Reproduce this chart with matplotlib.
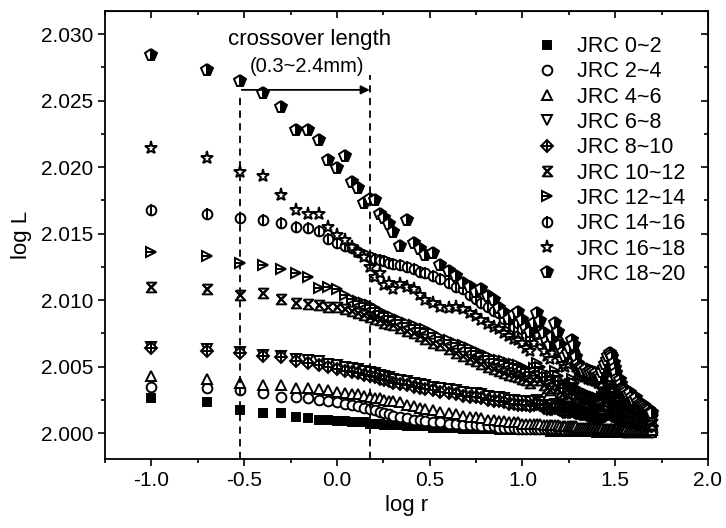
import numpy as np
import matplotlib
matplotlib.use('Agg')
import matplotlib.pyplot as plt
from matplotlib.ticker import MultipleLocator, FormatStrFormatter
from matplotlib.legend_handler import HandlerTuple

plt.rcParams['font.family'] = ['Liberation Sans', 'DejaVu Sans']

# measuring scale r (mm)
r_mm = [0.1, 0.2, 0.3, 0.4, 0.5, 0.6, 0.7, 0.8, 0.9, 1.0,
        1.1, 1.2, 1.3, 1.4, 1.5, 1.6, 1.7, 1.8, 1.9, 2.0,
        2.2, 2.4, 2.6, 2.8, 3.0, 3.3, 3.6, 4.0, 4.4, 4.8,
        5.2, 5.6, 6.0, 6.5, 7.0, 7.5, 8.0, 8.5, 9.0, 9.5,
        10, 10.5, 11, 11.5, 12, 12.5, 13, 13.5, 14, 14.5,
        15, 15.5, 16, 16.5, 17, 17.5, 18, 18.5, 19, 19.5,
        20, 20.5, 21, 21.5, 22, 22.5, 23, 23.5, 24, 24.5,
        25, 25.5, 26, 26.5, 27, 27.5, 28, 28.5, 29, 29.5,
        30, 30.5, 31, 31.5, 32, 32.5, 33, 33.5, 34, 34.5,
        35, 35.5, 36, 37, 38, 39, 40, 41, 42, 43,
        44, 45, 46, 47, 48, 49, 50]

labels = ['JRC 0~2', 'JRC 2~4', 'JRC 4~6', 'JRC 6~8', 'JRC 8~10',
          'JRC 10~12', 'JRC 12~14', 'JRC 14~16', 'JRC 16~18', 'JRC 18~20']

jrc_0_2 = [2.0026, 2.0023, 2.0017, 2.0015, 2.0015, 2.0012, 2.0011, 2.0010, 2.0010, 2.0009,
           2.0009, 2.0008, 2.0008, 2.0008, 2.0007, 2.0007, 2.0007, 2.0006, 2.0006, 2.0006,
           2.0006, 2.0005, 2.0005, 2.0005, 2.0005, 2.0004, 2.0004, 2.0004, 2.0004, 2.0003,
           2.0003, 2.0003, 2.0003, 2.0003, 2.0003, 2.0002, 2.0002, 2.0002, 2.0002, 2.0002,
           2.0002, 2.0002, 2.0002, 2.0002, 2.0002, 2.0002, 2.0002, 2.0002, 2.0001, 2.0001,
           2.0001, 2.0001, 2.0001, 2.0001, 2.0001, 2.0001, 2.0001, 2.0001, 2.0001, 2.0001,
           2.0001, 2.0001, 2.0001, 2.0001, 2.0001, 2.0001, 2.0001, 2.0001, 2.0001, 2.0001,
           2.0000, 2.0000, 2.0000, 2.0000, 2.0000, 2.0000, 2.0000, 2.0000, 2.0000, 2.0000,
           2.0000, 2.0000, 2.0000, 2.0000, 2.0000, 2.0000, 2.0000, 2.0000, 2.0000, 2.0000,
           2.0000, 2.0000, 2.0000, 2.0000, 2.0000, 2.0000, 2.0000, 2.0000, 2.0000, 2.0000,
           2.0000, 2.0000, 2.0000, 2.0000, 2.0000, 2.0000, 2.0000]
jrc_2_4 = [2.0035, 2.0034, 2.0032, 2.0030, 2.0027, 2.0027, 2.0026, 2.0025, 2.0024, 2.0023,
           2.0022, 2.0021, 2.0020, 2.0019, 2.0018, 2.0017, 2.0016, 2.0015, 2.0014, 2.0013,
           2.0012, 2.0011, 2.0010, 2.0010, 2.0009, 2.0008, 2.0008, 2.0007, 2.0007, 2.0006,
           2.0006, 2.0006, 2.0005, 2.0005, 2.0005, 2.0004, 2.0004, 2.0004, 2.0004, 2.0003,
           2.0003, 2.0003, 2.0003, 2.0003, 2.0003, 2.0003, 2.0003, 2.0003, 2.0003, 2.0003,
           2.0003, 2.0003, 2.0003, 2.0003, 2.0002, 2.0002, 2.0002, 2.0002, 2.0002, 2.0002,
           2.0002, 2.0002, 2.0002, 2.0002, 2.0002, 2.0002, 2.0002, 2.0002, 2.0002, 2.0002,
           2.0002, 2.0002, 2.0002, 2.0002, 2.0002, 2.0002, 2.0002, 2.0002, 2.0002, 2.0002,
           2.0002, 2.0002, 2.0002, 2.0002, 2.0002, 2.0002, 2.0002, 2.0002, 2.0002, 2.0002,
           2.0001, 2.0001, 2.0001, 2.0001, 2.0001, 2.0001, 2.0001, 2.0001, 2.0001, 2.0001,
           2.0001, 2.0001, 2.0001, 2.0001, 2.0001, 2.0001, 2.0001]
jrc_4_6 = [2.0043, 2.0041, 2.0038, 2.0036, 2.0036, 2.0034, 2.0034, 2.0033, 2.0032, 2.0031,
           2.0030, 2.0029, 2.0029, 2.0028, 2.0027, 2.0026, 2.0026, 2.0025, 2.0024, 2.0024,
           2.0023, 2.0021, 2.0020, 2.0019, 2.0018, 2.0017, 2.0016, 2.0015, 2.0014, 2.0013,
           2.0012, 2.0012, 2.0011, 2.0010, 2.0010, 2.0009, 2.0009, 2.0008, 2.0008, 2.0008,
           2.0007, 2.0007, 2.0007, 2.0007, 2.0007, 2.0007, 2.0006, 2.0006, 2.0006, 2.0006,
           2.0006, 2.0006, 2.0005, 2.0005, 2.0005, 2.0005, 2.0005, 2.0005, 2.0005, 2.0005,
           2.0004, 2.0004, 2.0004, 2.0004, 2.0004, 2.0004, 2.0004, 2.0004, 2.0004, 2.0004,
           2.0004, 2.0004, 2.0004, 2.0004, 2.0004, 2.0003, 2.0003, 2.0003, 2.0003, 2.0003,
           2.0003, 2.0003, 2.0003, 2.0003, 2.0003, 2.0003, 2.0003, 2.0003, 2.0003, 2.0003,
           2.0003, 2.0003, 2.0003, 2.0002, 2.0002, 2.0002, 2.0002, 2.0002, 2.0002, 2.0002,
           2.0002, 2.0002, 2.0002, 2.0002, 2.0002, 2.0002, 2.0002]
jrc_6_8 = [2.0065, 2.0063, 2.0061, 2.0059, 2.0058, 2.0056, 2.0055, 2.0054, 2.0052, 2.0051,
           2.0050, 2.0049, 2.0048, 2.0047, 2.0046, 2.0045, 2.0044, 2.0043, 2.0042, 2.0041,
           2.0040, 2.0039, 2.0038, 2.0037, 2.0036, 2.0035, 2.0034, 2.0033, 2.0032, 2.0031,
           2.0030, 2.0030, 2.0029, 2.0028, 2.0027, 2.0027, 2.0026, 2.0025, 2.0025, 2.0024,
           2.0024, 2.0024, 2.0023, 2.0024, 2.0025, 2.0023, 2.0021, 2.0021, 2.0020, 2.0021,
           2.0022, 2.0020, 2.0019, 2.0018, 2.0018, 2.0018, 2.0018, 2.0019, 2.0018, 2.0017,
           2.0017, 2.0016, 2.0016, 2.0016, 2.0015, 2.0015, 2.0015, 2.0015, 2.0014, 2.0014,
           2.0014, 2.0014, 2.0013, 2.0013, 2.0014, 2.0014, 2.0015, 2.0015, 2.0016, 2.0016,
           2.0016, 2.0015, 2.0015, 2.0014, 2.0013, 2.0013, 2.0012, 2.0012, 2.0011, 2.0011,
           2.0011, 2.0011, 2.0010, 2.0010, 2.0009, 2.0009, 2.0009, 2.0008, 2.0008, 2.0008,
           2.0007, 2.0007, 2.0007, 2.0006, 2.0006, 2.0006, 2.0006]
jrc_8_10 = [2.0064, 2.0062, 2.0060, 2.0058, 2.0057, 2.0054, 2.0053, 2.0051, 2.0050, 2.0048,
            2.0047, 2.0046, 2.0045, 2.0044, 2.0043, 2.0042, 2.0041, 2.0040, 2.0039, 2.0038,
            2.0037, 2.0036, 2.0035, 2.0034, 2.0033, 2.0032, 2.0031, 2.0030, 2.0029, 2.0028,
            2.0027, 2.0027, 2.0026, 2.0025, 2.0024, 2.0024, 2.0023, 2.0022, 2.0022, 2.0021,
            2.0021, 2.0021, 2.0020, 2.0021, 2.0022, 2.0021, 2.0019, 2.0018, 2.0018, 2.0018,
            2.0019, 2.0018, 2.0017, 2.0016, 2.0016, 2.0016, 2.0016, 2.0017, 2.0016, 2.0015,
            2.0015, 2.0014, 2.0014, 2.0014, 2.0014, 2.0013, 2.0013, 2.0013, 2.0013, 2.0012,
            2.0012, 2.0012, 2.0012, 2.0012, 2.0012, 2.0013, 2.0013, 2.0014, 2.0014, 2.0014,
            2.0014, 2.0013, 2.0013, 2.0012, 2.0012, 2.0011, 2.0011, 2.0010, 2.0010, 2.0010,
            2.0010, 2.0009, 2.0009, 2.0009, 2.0008, 2.0008, 2.0008, 2.0007, 2.0007, 2.0007,
            2.0007, 2.0006, 2.0006, 2.0006, 2.0006, 2.0005, 2.0005]
jrc_10_12 = [2.0110, 2.0108, 2.0104, 2.0105, 2.0101, 2.0098, 2.0097, 2.0096, 2.0095, 2.0095,
             2.0093, 2.0092, 2.0090, 2.0089, 2.0087, 2.0086, 2.0085, 2.0083, 2.0082, 2.0081,
             2.0079, 2.0077, 2.0075, 2.0073, 2.0071, 2.0068, 2.0066, 2.0063, 2.0060, 2.0058,
             2.0056, 2.0054, 2.0052, 2.0050, 2.0048, 2.0047, 2.0045, 2.0044, 2.0043, 2.0042,
             2.0041, 2.0040, 2.0038, 2.0040, 2.0043, 2.0040, 2.0036, 2.0034, 2.0032, 2.0034,
             2.0037, 2.0034, 2.0031, 2.0029, 2.0027, 2.0028, 2.0030, 2.0033, 2.0030, 2.0027,
             2.0026, 2.0025, 2.0024, 2.0024, 2.0023, 2.0023, 2.0022, 2.0022, 2.0021, 2.0021,
             2.0020, 2.0020, 2.0019, 2.0019, 2.0020, 2.0022, 2.0024, 2.0026, 2.0027, 2.0028,
             2.0027, 2.0025, 2.0023, 2.0021, 2.0019, 2.0018, 2.0017, 2.0017, 2.0016, 2.0015,
             2.0014, 2.0014, 2.0013, 2.0013, 2.0012, 2.0012, 2.0011, 2.0011, 2.0010, 2.0010,
             2.0010, 2.0009, 2.0009, 2.0008, 2.0008, 2.0007, 2.0007]
jrc_12_14 = [2.0136, 2.0133, 2.0128, 2.0126, 2.0123, 2.0120, 2.0117, 2.0109, 2.0110, 2.0108,
             2.0104, 2.0101, 2.0099, 2.0098, 2.0096, 2.0094, 2.0092, 2.0090, 2.0088, 2.0087,
             2.0085, 2.0083, 2.0081, 2.0079, 2.0078, 2.0075, 2.0072, 2.0070, 2.0068, 2.0066,
             2.0064, 2.0062, 2.0060, 2.0058, 2.0056, 2.0055, 2.0054, 2.0053, 2.0052, 2.0051,
             2.0050, 2.0048, 2.0046, 2.0049, 2.0053, 2.0050, 2.0045, 2.0042, 2.0040, 2.0043,
             2.0047, 2.0043, 2.0039, 2.0036, 2.0034, 2.0035, 2.0037, 2.0041, 2.0038, 2.0034,
             2.0032, 2.0031, 2.0030, 2.0030, 2.0029, 2.0029, 2.0028, 2.0028, 2.0027, 2.0027,
             2.0026, 2.0026, 2.0025, 2.0025, 2.0027, 2.0029, 2.0031, 2.0033, 2.0035, 2.0037,
             2.0036, 2.0034, 2.0031, 2.0028, 2.0026, 2.0024, 2.0022, 2.0023, 2.0021, 2.0020,
             2.0019, 2.0019, 2.0018, 2.0017, 2.0017, 2.0016, 2.0015, 2.0015, 2.0014, 2.0013,
             2.0013, 2.0012, 2.0012, 2.0011, 2.0011, 2.0010, 2.0010]
jrc_14_16 = [2.0168, 2.0165, 2.0162, 2.0160, 2.0158, 2.0155, 2.0154, 2.0152, 2.0146, 2.0143,
             2.0141, 2.0139, 2.0136, 2.0134, 2.0132, 2.0131, 2.0130, 2.0129, 2.0128, 2.0127,
             2.0126, 2.0125, 2.0123, 2.0121, 2.0120, 2.0118, 2.0116, 2.0113, 2.0110, 2.0108,
             2.0104, 2.0101, 2.0098, 2.0095, 2.0092, 2.0090, 2.0086, 2.0083, 2.0080, 2.0083,
             2.0078, 2.0073, 2.0070, 2.0076, 2.0082, 2.0077, 2.0069, 2.0064, 2.0062, 2.0066,
             2.0074, 2.0069, 2.0062, 2.0058, 2.0055, 2.0057, 2.0060, 2.0065, 2.0061, 2.0054,
             2.0050, 2.0048, 2.0047, 2.0046, 2.0046, 2.0045, 2.0044, 2.0044, 2.0043, 2.0042,
             2.0042, 2.0041, 2.0041, 2.0040, 2.0043, 2.0047, 2.0050, 2.0053, 2.0056, 2.0058,
             2.0057, 2.0054, 2.0050, 2.0046, 2.0042, 2.0039, 2.0036, 2.0037, 2.0034, 2.0032,
             2.0031, 2.0030, 2.0029, 2.0028, 2.0028, 2.0026, 2.0024, 2.0025, 2.0022, 2.0021,
             2.0020, 2.0019, 2.0018, 2.0017, 2.0016, 2.0015, 2.0014]
jrc_16_18 = [2.0214, 2.0207, 2.0196, 2.0193, 2.0179, 2.0168, 2.0165, 2.0165, 2.0155, 2.0149,
             2.0145, 2.0140, 2.0136, 2.0132, 2.0125, 2.0117, 2.0120, 2.0111, 2.0113, 2.0108,
             2.0112, 2.0110, 2.0108, 2.0104, 2.0100, 2.0098, 2.0095, 2.0094, 2.0095, 2.0093,
             2.0090, 2.0088, 2.0085, 2.0082, 2.0080, 2.0078, 2.0075, 2.0073, 2.0071, 2.0070,
             2.0068, 2.0064, 2.0062, 2.0068, 2.0074, 2.0069, 2.0062, 2.0058, 2.0056, 2.0060,
             2.0068, 2.0062, 2.0056, 2.0052, 2.0050, 2.0052, 2.0055, 2.0060, 2.0056, 2.0050,
             2.0046, 2.0044, 2.0043, 2.0042, 2.0042, 2.0041, 2.0041, 2.0040, 2.0040, 2.0039,
             2.0039, 2.0038, 2.0038, 2.0037, 2.0040, 2.0043, 2.0046, 2.0049, 2.0052, 2.0054,
             2.0053, 2.0050, 2.0046, 2.0042, 2.0038, 2.0035, 2.0033, 2.0034, 2.0031, 2.0029,
             2.0028, 2.0027, 2.0026, 2.0025, 2.0025, 2.0023, 2.0021, 2.0022, 2.0019, 2.0018,
             2.0017, 2.0016, 2.0015, 2.0014, 2.0013, 2.0013, 2.0012]
jrc_18_20 = [2.0284, 2.0273, 2.0265, 2.0256, 2.0245, 2.0228, 2.0228, 2.0220, 2.0205, 2.0199,
             2.0208, 2.0189, 2.0184, 2.0173, 2.0176, 2.0175, 2.0165, 2.0162, 2.0157, 2.0151,
             2.0141, 2.0160, 2.0143, 2.0138, 2.0134, 2.0135, 2.0126, 2.0122, 2.0118, 2.0113,
             2.0110, 2.0106, 2.0108, 2.0103, 2.0100, 2.0094, 2.0090, 2.0086, 2.0089, 2.0091,
             2.0085, 2.0079, 2.0076, 2.0083, 2.0090, 2.0084, 2.0075, 2.0069, 2.0066, 2.0072,
             2.0083, 2.0076, 2.0066, 2.0061, 2.0058, 2.0060, 2.0064, 2.0070, 2.0066, 2.0057,
             2.0052, 2.0050, 2.0049, 2.0047, 2.0048, 2.0046, 2.0047, 2.0045, 2.0046, 2.0044,
             2.0045, 2.0043, 2.0044, 2.0042, 2.0046, 2.0049, 2.0052, 2.0055, 2.0058, 2.0060,
             2.0059, 2.0057, 2.0053, 2.0049, 2.0045, 2.0041, 2.0038, 2.0040, 2.0037, 2.0034,
             2.0033, 2.0032, 2.0031, 2.0029, 2.0030, 2.0027, 2.0025, 2.0026, 2.0023, 2.0022,
             2.0021, 2.0020, 2.0019, 2.0018, 2.0017, 2.0016, 2.0015]

series = [jrc_0_2, jrc_2_4, jrc_4_6, jrc_6_8, jrc_8_10,
          jrc_10_12, jrc_12_14, jrc_14_16, jrc_16_18, jrc_18_20]

# crossover region (log r)
cross_lo, cross_hi = -0.523, 0.177

log_r = np.log10(r_mm)

fig = plt.figure(figsize=(7.26, 5.28), dpi=100)
ax = fig.add_axes([105 / 726, 1 - 459 / 528, 603 / 726, 448 / 528])

hourglass = [(-1, 1), (1, 1), (-1, -1), (1, -1), (-1, 1)]
bar_h = [(-1.3, 0), (1.0, 0)]

K = 'black'
W = 'white'
lw = 1.4


def layers(idx):
    base = dict(ls='none', mec=K, mew=lw)
    if idx == 0:
        return [dict(base, marker='s', ms=6.3, mfc=K)]
    if idx == 1:
        return [dict(base, marker='o', ms=7, mfc=W)]
    if idx == 2:
        return [dict(base, marker='^', ms=7.5, mfc=W)]
    if idx == 3:
        return [dict(base, marker='v', ms=7.5, mfc=W)]
    if idx == 4:
        return [dict(base, marker='D', ms=6.2, mfc=W), dict(base, marker='+', ms=8)]
    if idx == 5:
        return [dict(base, marker=hourglass, ms=7, mfc=W), dict(base, marker='x', ms=5)]
    if idx == 6:
        return [dict(base, marker='>', ms=7.5, mfc=W), dict(base, marker=bar_h, ms=9)]
    if idx == 7:
        return [dict(base, marker='o', ms=7, mfc=W), dict(base, marker='|', ms=8)]
    if idx == 8:
        return [dict(base, marker='*', ms=9.5, mfc=W)]
    return [dict(base, marker='p', ms=8.5, mfc=K, markerfacecoloralt=W, fillstyle='right')]


handles = []
for i, ys in enumerate(series):
    hs = []
    for st in layers(i):
        h, = ax.plot(log_r, ys, **st)
        hs.append(h)
    handles.append(tuple(hs))

ax.set_xlim(-1.25, 2.0)
ax.set_ylim(1.99805, 2.03173)

# crossover annotation
y_bot = ax.get_ylim()[0]
dash = (0, (4, 3))
ax.plot([cross_lo, cross_lo], [y_bot, 2.02556], color=K, lw=1.3, ls=dash)
ax.plot([cross_hi, cross_hi], [y_bot, 2.0269], color=K, lw=1.3, ls=dash)
ax.annotate('', xy=(cross_hi, 2.0258), xytext=(cross_lo + 0.01, 2.0258),
            arrowprops=dict(arrowstyle='-|>', color=K, lw=1.3, mutation_scale=13,
                            shrinkA=0, shrinkB=0))
ax.text(-0.147, 2.02955, 'crossover length', ha='center', va='center', fontsize=16)
ax.text(-0.163, 2.02752, '(0.3~2.4mm)', ha='center', va='center', fontsize=14.5)

# axes styling
ax.xaxis.set_major_locator(MultipleLocator(0.5))
ax.xaxis.set_minor_locator(MultipleLocator(0.25))
ax.yaxis.set_major_locator(MultipleLocator(0.005))
ax.yaxis.set_minor_locator(MultipleLocator(0.0025))
ax.xaxis.set_major_formatter(FormatStrFormatter('%.1f'))
ax.yaxis.set_major_formatter(FormatStrFormatter('%.3f'))
ax.tick_params(which='both', direction='out', width=1.2, labelsize=15)
ax.tick_params(which='major', length=5)
ax.tick_params(which='minor', length=3)
for s in ax.spines.values():
    s.set_linewidth(1.3)

sx = ax.secondary_xaxis('top')
sx.xaxis.set_major_locator(MultipleLocator(0.5))
sx.xaxis.set_minor_locator(MultipleLocator(0.25))
sx.tick_params(which='both', direction='in', labeltop=False, width=1.2)
sx.tick_params(which='major', length=5)
sx.tick_params(which='minor', length=3)
sy = ax.secondary_yaxis('right')
sy.yaxis.set_major_locator(MultipleLocator(0.005))
sy.yaxis.set_minor_locator(MultipleLocator(0.0025))
sy.tick_params(which='both', direction='in', labelright=False, width=1.2)
sy.tick_params(which='major', length=5)
sy.tick_params(which='minor', length=3)

ax.set_xlabel('log r', fontsize=16, labelpad=4)
ax.set_ylabel('log L', fontsize=16, labelpad=6)

ax.legend(handles, labels, handler_map={tuple: HandlerTuple(ndivide=1, pad=0)},
          loc='upper left', bbox_to_anchor=(0.715, 0.944), borderpad=0, borderaxespad=0,
          frameon=False, fontsize=15.5, handlelength=1.0, handletextpad=0.9,
          labelspacing=0.2, numpoints=1)

fig.savefig('out.png', dpi=100)
